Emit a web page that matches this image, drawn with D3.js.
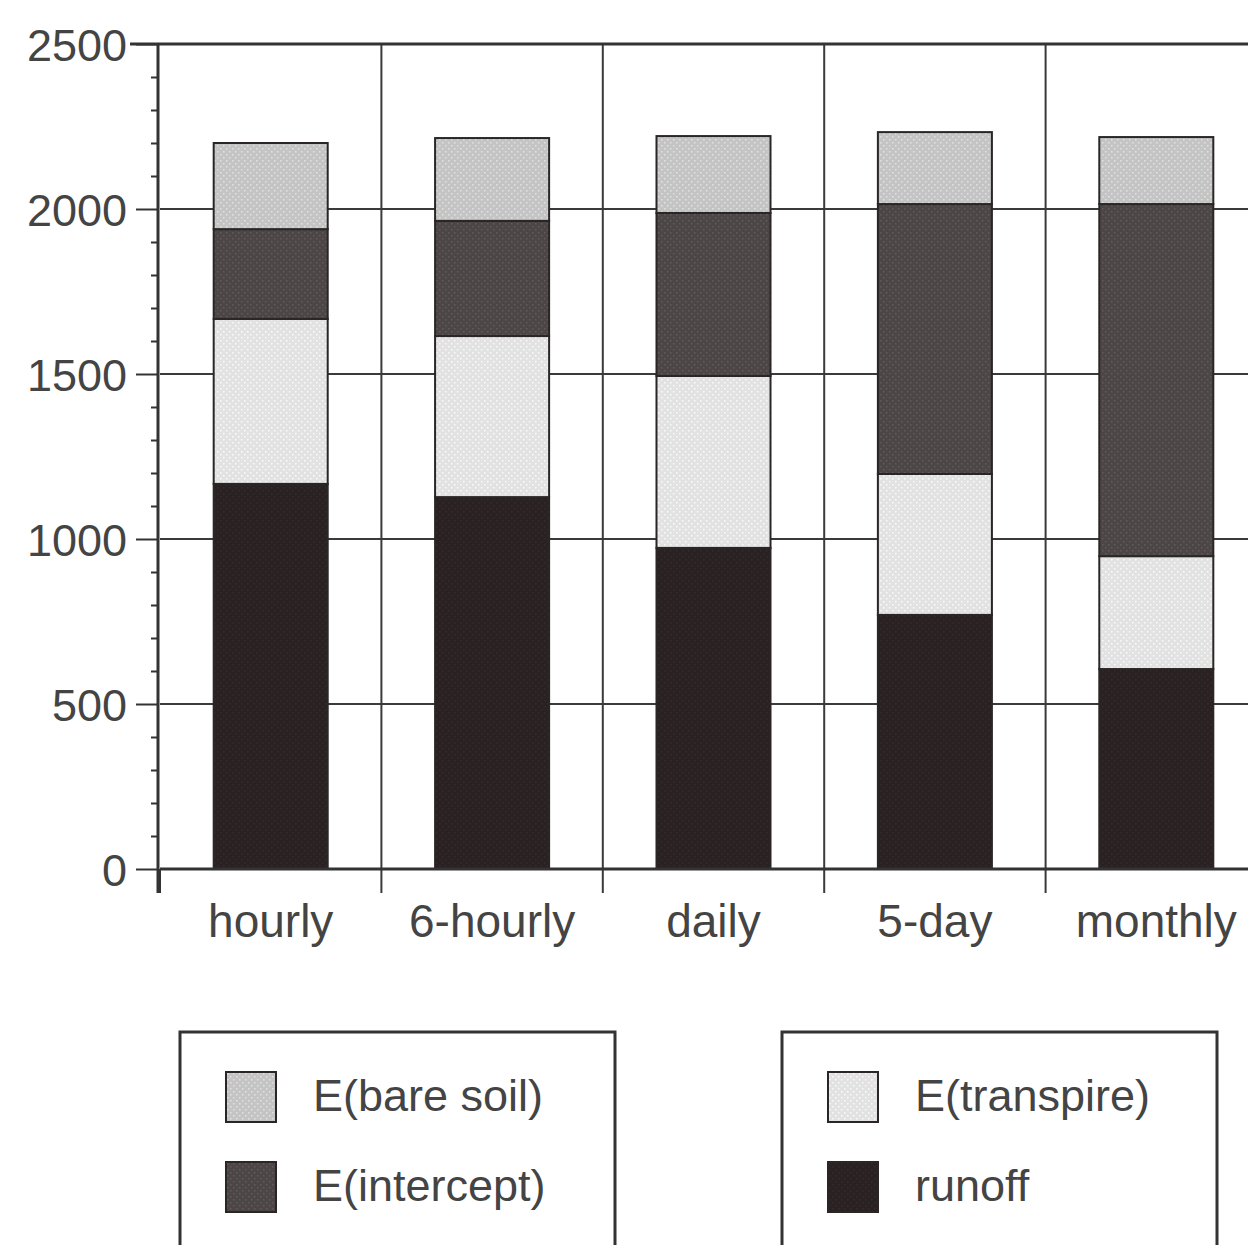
<!DOCTYPE html>
<html>
<head>
<meta charset="utf-8">
<script src="https://cdn.jsdelivr.net/npm/d3@7"></script>
<style>
  body { margin: 0; background: #fff; }
  svg { display: block; font-family: "Liberation Sans", Arial, sans-serif; }
</style>
</head>
<body>
<div id="chart"></div>
<script>
// categories and stacked values
const categories = ["hourly", "6-hourly", "daily", "5-day", "monthly"];
const runoff     = [1167, 1127, 973, 770, 606];
const transpire  = [500, 488, 521, 427, 342];
const intercept  = [272, 349, 494, 818, 1067];
const bareSoil   = [261, 251, 233, 218, 203];
const yTicks     = [0, 500, 1000, 1500, 2000, 2500];

const seriesKeys  = ["runoff", "transpire", "intercept", "bareSoil"];
const seriesNames = { bareSoil: "E(bare soil)", intercept: "E(intercept)", transpire: "E(transpire)", runoff: "runoff" };
const colors = { runoff: "#2a2222", transpire: "#e2e2e2", intercept: "#4c4646", bareSoil: "#c4c4c4" };

const table = categories.map((c, i) => ({
  cat: c, runoff: runoff[i], transpire: transpire[i], intercept: intercept[i], bareSoil: bareSoil[i]
}));

const W = 1248, H = 1245;
const svg = d3.select("#chart").append("svg").attr("width", W).attr("height", H);

// stipple patterns to mimic the print texture
const defs = svg.append("defs");
function stipple(id, base, dot, op) {
  const p = defs.append("pattern").attr("id", id).attr("patternUnits", "userSpaceOnUse")
    .attr("width", 6).attr("height", 6);
  p.append("rect").attr("width", 6).attr("height", 6).attr("fill", base);
  p.append("rect").attr("x", 1).attr("y", 1).attr("width", 1.5).attr("height", 1.5).attr("fill", dot).attr("opacity", op);
  p.append("rect").attr("x", 4).attr("y", 4).attr("width", 1.5).attr("height", 1.5).attr("fill", dot).attr("opacity", op);
}
stipple("p-runoff", colors.runoff, "#3a3232", 0.6);
stipple("p-transpire", colors.transpire, "#ffffff", 0.8);
stipple("p-intercept", colors.intercept, "#6a6464", 0.7);
stipple("p-bareSoil", colors.bareSoil, "#e8e8e8", 0.8);

const x = d3.scaleBand().domain(categories).range([160, 1267]).padding(0);
const y = d3.scaleLinear().domain([0, 2500]).range([869, 44]);

const stack = d3.stack().keys(seriesKeys)(table);

// gridlines
const grid = svg.append("g").attr("stroke", "#3a3a3a").attr("stroke-width", 2);
grid.selectAll("line.h").data(yTicks.filter(d => d > 0)).enter().append("line")
  .attr("x1", x.range()[0]).attr("x2", W + 20)
  .attr("y1", d => y(d)).attr("y2", d => y(d));
grid.selectAll("line.v").data(categories.slice(1)).enter().append("line")
  .attr("x1", d => x(d)).attr("x2", d => x(d))
  .attr("y1", y(2500)).attr("y2", y(0) + 24);

// bars
const barW = x.bandwidth() * 0.515;
const off = (x.bandwidth() - barW) / 2;
svg.append("g").selectAll("g").data(stack).enter().append("g")
  .attr("fill", d => `url(#p-${d.key})`)
  .selectAll("rect").data(d => d).enter().append("rect")
    .attr("x", d => x(d.data.cat) + off)
    .attr("y", d => y(d[1]))
    .attr("width", barW)
    .attr("height", d => y(d[0]) - y(d[1]))
    .attr("stroke", "#2a2626").attr("stroke-width", 2);

// left axis: major ticks with labels, minor ticks every 100
const yAxis = svg.append("g").attr("transform", `translate(${x.range()[0] - 2},0)`)
  .call(d3.axisLeft(y).tickValues(yTicks).tickSize(22).tickPadding(9).tickFormat(d3.format("d")));
svg.append("g").attr("transform", `translate(${x.range()[0] - 2},0)`)
  .call(d3.axisLeft(y).tickValues(d3.range(0, 2501, 100).filter(v => v % 500 !== 0)).tickSize(7).tickFormat(""))
  .call(g => g.select(".domain").remove());
svg.selectAll(".tick line").attr("stroke", "#333").attr("stroke-width", 2);
yAxis.select(".domain").attr("stroke", "#333").attr("stroke-width", 3).attr("d", `M0,${y(2500)}V${y(0) + 24}`);
yAxis.selectAll("text").attr("font-size", 45).attr("fill", "#444").attr("dy", "0.36em");

// bottom axis line and category separators
const xAxis = svg.append("g").attr("transform", `translate(0,${y(0)})`)
  .call(d3.axisBottom(x).tickSize(0).tickPadding(36));
xAxis.select(".domain").attr("stroke", "#333").attr("stroke-width", 3).attr("d", `M${x.range()[0]},0H${W + 20}`);
xAxis.selectAll("text").attr("font-size", 46).attr("fill", "#444").attr("dy", "0.7em");
svg.append("g").attr("stroke", "#333").attr("stroke-width", 2)
  .selectAll("line").data([categories[0]]).enter().append("line")
  .attr("x1", d => x(d)).attr("x2", d => x(d)).attr("y1", y(0)).attr("y2", y(0) + 24);

// top border line
svg.append("line").attr("x1", x.range()[0] - 30).attr("x2", W + 20)
  .attr("y1", y(2500)).attr("y2", y(2500)).attr("stroke", "#333").attr("stroke-width", 3);

// legends (two boxes)
const legendGroups = [
  { x: 180, keys: ["bareSoil", "intercept"] },
  { x: 782, keys: ["transpire", "runoff"] }
];
legendGroups.forEach(lg => {
  const g = svg.append("g").attr("transform", `translate(${lg.x},1032)`);
  g.append("rect").attr("width", 435).attr("height", 240)
    .attr("fill", "none").attr("stroke", "#333").attr("stroke-width", 3);
  lg.keys.forEach((k, i) => {
    const row = g.append("g").attr("transform", `translate(46,${40 + i * 90})`);
    row.append("rect").attr("width", 50).attr("height", 50)
      .attr("fill", `url(#p-${k})`).attr("stroke", "#2a2626").attr("stroke-width", 2);
    row.append("text").attr("x", 87).attr("y", 23).attr("dy", "0.36em")
      .attr("font-size", 45).attr("fill", "#444").text(seriesNames[k]);
  });
});
</script>
</body>
</html>
